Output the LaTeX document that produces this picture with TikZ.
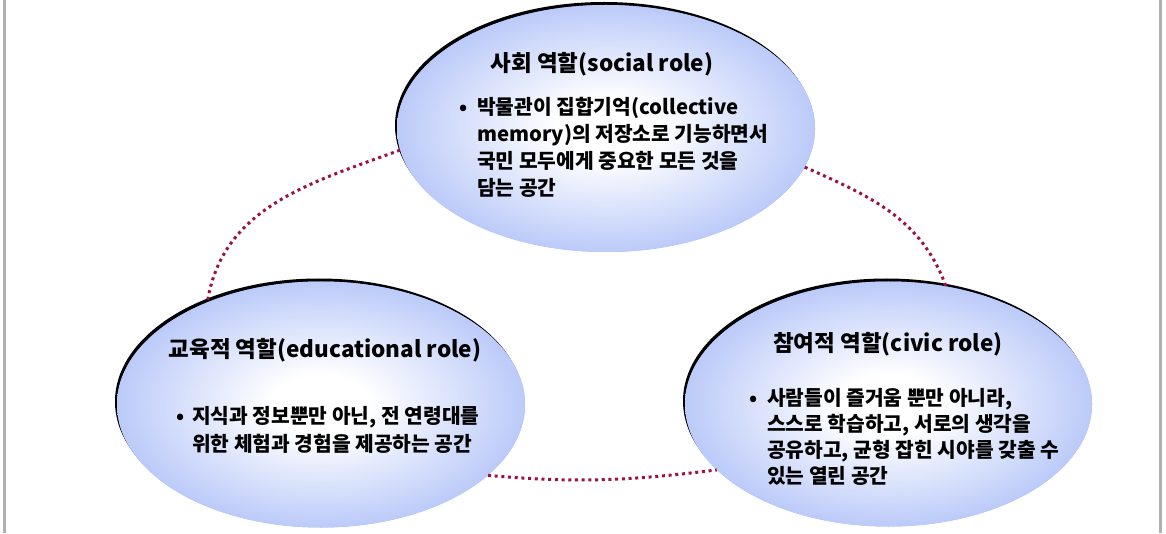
\documentclass[tikz,border=0pt]{standalone}
\usepackage{fontspec}
\setmainfont{Noto Sans CJK KR}
\usetikzlibrary{calc}
\usetikzlibrary{shapes.geometric}
\usetikzlibrary{shadows}

\definecolor{roleblue}{RGB}{155,177,246}
\definecolor{linkred}{RGB}{155,18,70}
\definecolor{framegray}{RGB}{176,176,176}
\pgfdeclareradialshading{rolefill}{\pgfpoint{0bp}{0bp}}{color(0bp)=(white); color(6bp)=(white); color(34bp)=(roleblue); color(50bp)=(roleblue); color(75bp)=(roleblue)}

\begin{document}
\begin{tikzpicture}[x=1pt,y=1pt,
 role/.style={ellipse, inner sep=0pt,
  general shadow={fill=black, shadow xshift=-2pt, shadow yshift=3pt},
  preaction={fill=roleblue}, shade, shading=rolefill},
 roletitle/.style={inner sep=0pt, font=\fontsize{22.5}{26}\selectfont\bfseries},
 rolebody/.style={inner sep=0pt, anchor=north west, align=left, font=\fontsize{20.3}{27}\selectfont\bfseries},
 link/.style={linkred, line width=3pt, dash pattern=on 3pt off 3.7pt},
 frame/.style={framegray, line width=3pt}]
\fill[white] (0,0) rectangle (1166,533);
\useasboundingbox (0,0) rectangle (1166,533);
\draw[frame] (4,0) -- (4,533);
\draw[frame] (1160,0) -- (1160,533);

\node[role, minimum width=418pt, minimum height=247pt] (social) at (606,404.5) {};
\node[role, minimum width=408pt, minimum height=246pt] (edu) at (321,128.5) {};
\node[role, minimum width=407pt, minimum height=245pt] (civic) at (888.5,129) {};

\draw[link] (social.186) to[out=200,in=81] (edu.138);
\draw[link] (social.-11) to[out=-24,in=110] (civic.64);
\draw[link] (edu.-23) to[out=-5,in=187] (civic.201);

\node[roletitle] (social title) at (602,469) {사회 역할(social role)};
\node[rolebody] (social body) at (477,436) {\llap{\textbullet\hspace{10pt}}박물관이 집합기억(collective\\memory)의 저장소로 기능하면서\\국민 모두에게 중요한 모든 것을\\담는 공간};

\node[roletitle] (edu title) at (325,183) {교육적 역할(educational role)};
\node[rolebody, font=\fontsize{20.3}{28}\selectfont\bfseries] (edu body) at (192,127) {\llap{\textbullet\hspace{8pt}}지식과 정보뿐만 아닌, 전 연령대를\\위한 체험과 경험을 제공하는 공간};

\node[roletitle] (civic title) at (888,189) {참여적 역할(civic role)};
\node[rolebody, font=\fontsize{20.3}{26}\selectfont\bfseries] (civic body) at (767,145) {\llap{\textbullet\hspace{10pt}}사람들이 즐거움 뿐만 아니라,\\스스로 학습하고, 서로의 생각을\\공유하고, 균형 잡힌 시야를 갖출 수\\있는 열린 공간};
\end{tikzpicture}
\end{document}
